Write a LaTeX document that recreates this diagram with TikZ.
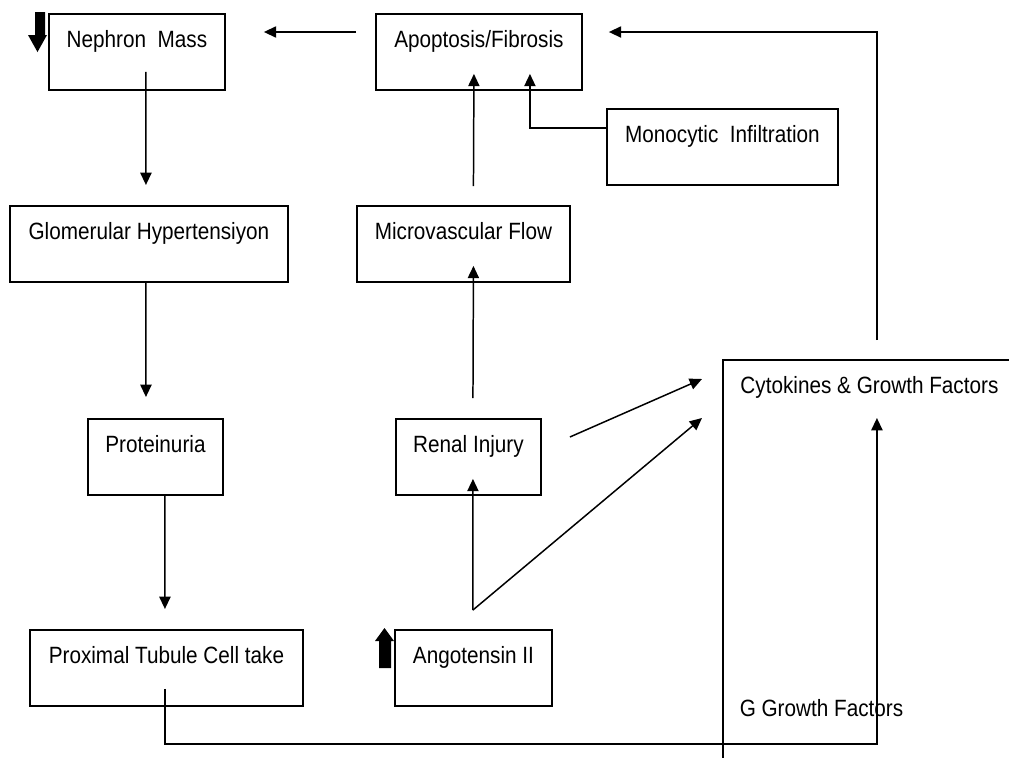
\documentclass[tikz,border=0pt]{standalone}
\usepackage{fontspec}
\setmainfont{Liberation Sans}[FakeStretch=0.88]
\usetikzlibrary{arrows.meta,calc}

\begin{document}
\begin{tikzpicture}[x=0.02cm, y=-0.02cm, line width=0.85pt,
	>={Triangle[length=7pt,width=6.4pt]},
	box/.style={draw, line width=1.1pt, anchor=north west, inner sep=0pt,
		text height=0.68cm, text depth=0.84cm, font=\fontsize{13.4}{16}\selectfont}]

	\useasboundingbox (0,0) rectangle (1009,758);
	\clip (0,0) rectangle (1009,758);

	% Boxes
	\node[box, minimum width=3.52cm] (nephron) at (48,13) {Nephron\ \ Mass};
	\node[box, minimum width=4.12cm] (apop) at (375,13) {Apoptosis/Fibrosis};
	\node[box, minimum width=4.62cm] (mono) at (606,108) {Monocytic\ \ Infiltration};
	\node[box, minimum width=5.56cm] (glom) at (9,205) {Glomerular Hypertensiyon};
	\node[box, minimum width=4.26cm] (micro) at (356,205) {Microvascular Flow};
	\node[box, minimum width=2.70cm] (prot) at (87,418) {Proteinuria};
	\node[box, minimum width=2.90cm] (renal) at (395,418) {Renal Injury};
	\node[box, minimum width=5.46cm] (prox) at (29,629) {Proximal Tubule Cell take};
	\node[box, minimum width=3.14cm] (ang) at (394,629) {Angotensin II};
	\node[box, minimum width=5.86cm, text depth=7.54cm] (cyto) at (722,359) {Cytokines \& Growth Factors};
	\node[anchor=base, inner sep=0pt, font=\fontsize{13.4}{16}\selectfont] (ggf) at (821.5,716.5) {G Growth Factors};

	% Thick arrows
	\fill (nephron.north west) ++(-13,-1) -- ++(10,0) -- ++(0,23) -- ++(2,0) -- ++(-9.5,17) -- ++(-9.5,-17) -- ++(7,0) -- cycle;
	\fill (ang.north west) ++(-15,39) -- ++(0,-27) -- ++(-4,0) -- ++(9.5,-13) -- ++(9.5,13) -- ++(-3,0) -- ++(0,27) -- cycle;

	% Connectors
	\coordinate (gbend) at ($(cyto.north)+(7.5,385)$);
	\coordinate (fork) at ($(ang.north)+(-0.5,-19)$);

	\draw[->] ($(apop.north west)+(-19,19)$) -- ($(nephron.north east)+(38,19)$);
	\draw[->] ($(nephron.south)+(9,-19)$) -- ($(glom.north)+(-3,-20)$);
	\draw[->] ($(glom.south)+(-3,0)$) -- ($(prot.north)+(-9.5,-21)$);
	\draw[->] ($(prot.south)+(9.5,0)$) -- ($(prox.north)+(-1.5,-20)$);
	\draw[->] ($(prox.south)+(-1.5,-18)$) |- (gbend) -- ($(cyto.north)+(7.5,59)$);
	\draw[->] ($(cyto.north)+(7.5,-19)$) |- ($(apop.north east)+(26,19)$);
	\draw[->] ($(micro.north)+(10,-19)$) -- ($(apop.south)+(-5,-17)$);
	\draw[->] ($(mono.north west)+(0,20)$) -| ($(apop.south)+(51,-17)$);
	\draw[->] ($(renal.north)+(4.5,-20)$) -- ($(micro.south)+(10,-17)$);
	\draw[->] ($(renal.north east)+(28,19)$) -- ($(cyto.north west)+(-20,20)$);
	\draw[->] (fork) -- ($(renal.south)+(4.5,-17)$);
	\draw[->] (fork) -- ($(cyto.north west)+(-20,59)$);

\end{tikzpicture}
\end{document}
